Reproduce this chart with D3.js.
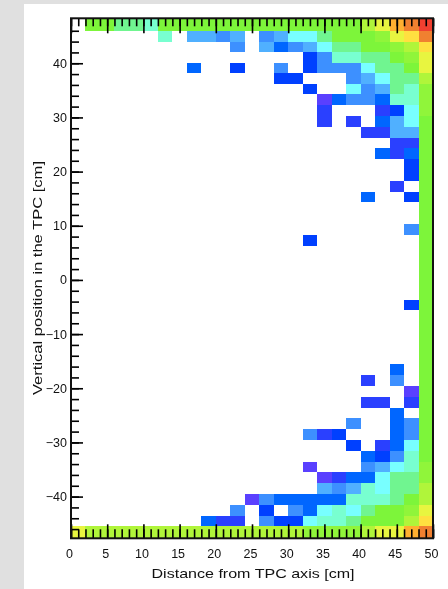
<!DOCTYPE html>
<html>
<head>
<meta charset="utf-8">
<script src="https://cdn.jsdelivr.net/npm/d3@7"></script>
<style>
    html, body { margin: 0; padding: 0; background: #e0e0e0; }
    svg { display: block; position: absolute; left: 24px; top: 4px; background: #fff; filter: blur(0.7px); }
    text { font-family: "Liberation Sans", Arial, sans-serif; fill: #111; }
</style>
</head>
<body>
<script>
// page and plot frame, in window pixels
const w = 448;
const h = 589;
const offset = { left: 24, top: 4 };
const frame = { left: 71, right: 433, top: 18.3, bottom: 538.3 };

const xDomain = [0, 50];
const yDomain = [-47.7, 48.3];
const binSize = 2;

const xMajorTicks = [0, 5, 10, 15, 20, 25, 30, 35, 40, 45, 50];
const yMajorTicks = [-40, -30, -20, -10, 0, 10, 20, 30, 40];

const xTitle = "Distance from TPC axis [cm]";
const yTitle = "Vertical position in the TPC [cm]";

// row edges in cm, the first and last rows are a bit taller than the rest
const rowIndexKnots = [0, 1, 7, 47, 48];
const rowEdgeKnots = [48.3, 45.96, 34.27, -45.5, -47.7];

// colour level -> colour, level 1 is the lowest bin content
const levels = [1, 2, 3, 4, 5, 6, 7, 8, 9, 10, 11, 12, 13, 14, 15, 16, 17];
const palette = ["#5a40ff", "#2a40ff", "#0040ff", "#0066ff", "#3d90ff", "#50b0ff", "#78ffff", "#78ffd0",
    "#70f590", "#7df53a", "#90f53a", "#b0f53a", "#e8f540", "#ffe040", "#ffb030", "#f08030", "#f04030"];

// one string per row from the top of the plot, one base-36 level per 2 cm column, "." = empty
const heatRows = [
    ".aa998aaaaaaaaaaaaaacdfgh",
    "......8.6656.56779aaabdeg",
    "...........5.6456799aabce",
    "................358899abd",
    "........4..3..5.3555799ad",
    "..............33...56799c",
    "................3..75698b",
    ".................1455488b",
    ".................2...237b",
    ".................2.2.467a",
    "....................2266a",
    "......................22a",
    ".....................424a",
    ".......................3a",
    ".......................3a",
    "......................2.a",
    "....................4..3a",
    "........................a",
    "........................a",
    ".......................5a",
    "................3.......a",
    "........................a",
    "........................a",
    "........................a",
    "........................a",
    "........................a",
    ".......................3a",
    "........................a",
    "........................a",
    "........................a",
    "........................a",
    "........................a",
    "......................4.a",
    "....................2.5.a",
    ".......................1a",
    "....................22.2a",
    "......................4.a",
    "...................5..45a",
    "................523...45a",
    "...................3.247a",
    "....................4358a",
    "................1...5678b",
    ".................1244799b",
    ".................6568799c",
    "............15444448889ac",
    "...........5.3.547879aabd",
    ".........422.5337889aaace",
    "dcccccccccccccccbbbbcddfg"
];

const xScale = d3.scaleLinear().domain(xDomain).range([frame.left, frame.right]);
const yScale = d3.scaleLinear().domain(yDomain).range([frame.bottom, frame.top]);
const rowEdge = d3.scaleLinear().domain(rowIndexKnots).range(rowEdgeKnots);
const colorScale = d3.scaleLinear().domain(levels).range(palette);

const svg = d3.select("body")
    .append("svg")
    .attr("width", w - offset.left)
    .attr("height", h - offset.top)
    .append("g")
    .attr("transform", `translate(${-offset.left}, ${-offset.top})`);

// Cells
heatRows.forEach((row, r) => {
    row.split("").forEach((ch, c) => {
        if (ch === ".") return;
        svg.append("rect")
            .attr("x", xScale(c * binSize))
            .attr("y", yScale(rowEdge(r)))
            .attr("width", xScale(binSize) - xScale(0))
            .attr("height", yScale(rowEdge(r + 1)) - yScale(rowEdge(r)))
            .attr("fill", colorScale(parseInt(ch, 36)))
            .attr("shape-rendering", "crispEdges");
    });
});

// Axes, ticks point into the plot
const xMinorTicks = d3.range(xDomain[0], xDomain[1] + 1, 1);
const yMinorTicks = d3.range(-46, 48, 2);

function styleAxis(g) {
    g.select(".domain").remove();
    g.selectAll(".tick line").attr("stroke", "#000").attr("stroke-width", 1.6);
    g.selectAll(".tick text").attr("fill", "#111").attr("font-size", 12.5);
}

svg.append("g")
    .attr("transform", `translate(0, ${frame.bottom})`)
    .call(d3.axisBottom(xScale).tickValues(xMinorTicks).tickSize(-9).tickFormat(""))
    .call(styleAxis);

svg.append("g")
    .attr("transform", `translate(0, ${frame.bottom})`)
    .call(d3.axisBottom(xScale).tickValues(xMajorTicks).tickSize(-14).tickPadding(20).tickFormat(d3.format("d")))
    .call(styleAxis)
    .selectAll("text").attr("dy", "0em").attr("dx", -2);

svg.append("g")
    .attr("transform", `translate(0, ${frame.top})`)
    .call(d3.axisTop(xScale).tickValues(xMinorTicks).tickSize(-8).tickFormat(""))
    .call(styleAxis);

svg.append("g")
    .attr("transform", `translate(0, ${frame.top})`)
    .call(d3.axisTop(xScale).tickValues(xMajorTicks).tickSize(-15).tickFormat(""))
    .call(styleAxis);

svg.append("g")
    .attr("transform", `translate(${frame.left}, 0)`)
    .call(d3.axisLeft(yScale).tickValues(yMinorTicks).tickSize(-8).tickFormat(""))
    .call(styleAxis);

svg.append("g")
    .attr("transform", `translate(${frame.left}, 0)`)
    .call(d3.axisLeft(yScale).tickValues(yMajorTicks).tickSize(-12).tickPadding(4).tickFormat(d3.format("d")))
    .call(styleAxis);

// Frame
svg.append("rect")
    .attr("x", frame.left)
    .attr("y", frame.top)
    .attr("width", frame.right - frame.left)
    .attr("height", frame.bottom - frame.top)
    .attr("fill", "none")
    .attr("stroke", "#111")
    .attr("stroke-width", 2);

// Titles
svg.append("text")
    .attr("x", 253)
    .attr("y", 578)
    .attr("text-anchor", "middle")
    .attr("font-size", 13)
    .attr("textLength", 203)
    .attr("lengthAdjust", "spacingAndGlyphs")
    .text(xTitle);

svg.append("text")
    .attr("transform", "translate(42, 278) rotate(-90)")
    .attr("text-anchor", "middle")
    .attr("font-size", 13)
    .attr("textLength", 234)
    .attr("lengthAdjust", "spacingAndGlyphs")
    .text(yTitle);
</script>
</body>
</html>
